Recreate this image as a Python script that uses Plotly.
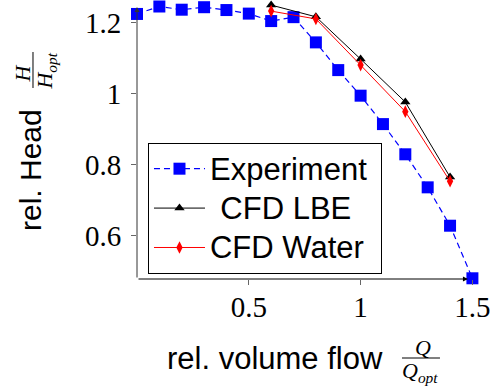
import plotly.graph_objects as go

# ---------------- data ----------------
exp_x = [0.0, 0.1, 0.2, 0.3, 0.4, 0.5, 0.6, 0.7, 0.8, 0.9, 1.0, 1.1, 1.2, 1.3, 1.4, 1.5]
exp_y = [1.224, 1.245, 1.236, 1.243, 1.235, 1.225, 1.204, 1.215, 1.144, 1.066, 0.994, 0.914, 0.829, 0.736, 0.628, 0.480]

lbe_x = [0.6, 0.8, 1.0, 1.2, 1.4]
lbe_y = [1.249, 1.216, 1.097, 0.976, 0.765]

water_x = [0.6, 0.8, 1.0, 1.2, 1.4]
water_y = [1.232, 1.210, 1.080, 0.949, 0.753]

series_names = ["Experiment\u00a0", "\u2004CFD LBE", "CFD Water"]

x_ticks = [0.5, 1.0, 1.5]
x_tick_text = ["0.5", "1", "1.5"]
y_ticks = [0.6, 0.8, 1.0, 1.2]
y_tick_text = ["0.6", "0.8", "1", "1.2"]

x_range = [0.0, 1.5116]
y_range = [0.478, 1.2633]

SERIF = "Liberation Serif"
SANS = "Liberation Sans"


def big(t):
    return '<span style="font-size:31px">' + t + '</span>'


fig = go.Figure()
fig.add_trace(go.Scatter(
    x=exp_x, y=exp_y, name=big(series_names[0]), mode="lines+markers",
    line=dict(color="#0000ff", width=1.2, dash="6px,4px"),
    marker=dict(symbol="square", size=12, color="#0000ff"),
    cliponaxis=False))
fig.add_trace(go.Scatter(
    x=lbe_x, y=lbe_y, name=big(series_names[1]), mode="lines+markers",
    line=dict(color="black", width=1),
    marker=dict(symbol="triangle-up", size=9, color="black"),
    cliponaxis=False))
fig.add_trace(go.Scatter(
    x=water_x, y=water_y, name=big(series_names[2]), mode="lines+markers",
    line=dict(color="#ff0000", width=1),
    marker=dict(symbol="diamond-tall", size=9, color="#ff0000"),
    cliponaxis=False))

axis_common = dict(showgrid=False, zeroline=False, showline=False,
                   ticklen=5, tickwidth=1, tickcolor="#666")

fig.update_layout(
    width=493, height=390,
    margin=dict(l=137, r=18, t=0, b=111),
    paper_bgcolor="white", plot_bgcolor="white",
    showlegend=True,
    legend=dict(x=0.0325, y=0.4875, xanchor="left", yanchor="top",
                bgcolor="white", bordercolor="black", borderwidth=1,
                font=dict(family=SANS, size=28, color="black"),
                itemwidth=51, tracegroupgap=0),
    xaxis=dict(range=x_range, tickvals=x_ticks, ticktext=x_tick_text,
               ticks="outside", ticklabelstandoff=-3,
               tickfont=dict(family=SERIF, size=29, color="black"),
               **axis_common),
    yaxis=dict(range=y_range, tickvals=y_ticks, ticktext=y_tick_text,
               ticks="outside", ticklabelstandoff=4,
               tickfont=dict(family=SERIF, size=29, color="black"),
               **axis_common),
    xaxis2=dict(range=x_range, tickvals=x_ticks, showticklabels=False,
                ticks="inside", overlaying="x", anchor="y", side="bottom",
                **axis_common),
    yaxis2=dict(range=y_range, tickvals=y_ticks, showticklabels=False,
                ticks="inside", overlaying="y", anchor="x", side="left",
                **axis_common),
)

# axis lines with arrow heads
fig.add_annotation(x=1.480, y=y_range[0], ax=0.0, ay=y_range[0], axref="x", ayref="y",
                   xref="x", yref="y", text="", showarrow=True, arrowhead=2,
                   arrowsize=1, arrowwidth=1, arrowcolor="black", standoff=0)
fig.add_annotation(x=0.0, y=1.2436, ax=0.0, ay=y_range[0], axref="x", ayref="y",
                   xref="x", yref="y", text="", showarrow=True, arrowhead=2,
                   arrowsize=1, arrowwidth=1, arrowcolor="#333", standoff=0)

# y title: "rel. Head  H/H_opt"
fig.add_annotation(x=-0.3136, y=0.3907, xref="paper", yref="paper", text="rel. Head",
                   textangle=-90, showarrow=False, xanchor="center", yanchor="middle",
                   font=dict(family=SANS, size=30, color="black"))
fig.add_annotation(x=-0.3388, y=0.738, xref="paper", yref="paper", text="<i>H</i>",
                   textangle=-90, showarrow=False, xanchor="center", yanchor="middle",
                   font=dict(family=SERIF, size=22, color="black"))
fig.add_annotation(x=-0.268, y=0.745, xref="paper", yref="paper", text="<i>H<sub>opt</sub></i>",
                   textangle=-90, showarrow=False, xanchor="center", yanchor="middle",
                   font=dict(family=SERIF, size=22, color="black"))
fig.add_shape(type="line", xref="paper", yref="paper", x0=-0.3077, x1=-0.3077,
              y0=0.6846, y1=0.8136, line=dict(color="black", width=1))

# x title: "rel. volume flow  Q/Q_opt"
fig.add_annotation(x=0.408, y=-0.2867, xref="paper", yref="paper", text="rel. volume flow",
                   showarrow=False, xanchor="center", yanchor="middle",
                   font=dict(family=SANS, size=31, color="black"))
fig.add_annotation(x=0.846, y=-0.2473, xref="paper", yref="paper", text="<i>Q</i>",
                   showarrow=False, xanchor="center", yanchor="middle",
                   font=dict(family=SERIF, size=22, color="black"))
fig.add_annotation(x=0.8373, y=-0.3333, xref="paper", yref="paper", text="<i>Q<sub>opt</sub></i>",
                   showarrow=False, xanchor="center", yanchor="middle",
                   font=dict(family=SERIF, size=22, color="black"))
fig.add_shape(type="line", xref="paper", yref="paper", x0=0.784, x1=0.8964,
              y0=-0.2832, y1=-0.2832, line=dict(color="black", width=1))

fig.write_html("out.html")
